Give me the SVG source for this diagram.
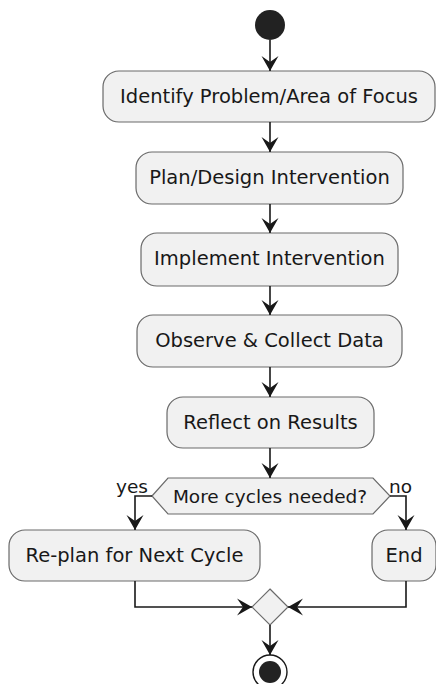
<svg xmlns="http://www.w3.org/2000/svg" width="436" height="684" viewBox="0 0 436 684">
<defs>
<marker id="ah" markerWidth="18" markerHeight="20" viewBox="-16 -10 18 20" refX="0" refY="0" orient="auto" markerUnits="userSpaceOnUse">
<path d="M0,0 L-15,-8.5 L-9,0 L-15,8.5 Z" fill="#181818"/>
</marker>
<style>
.box{fill:#F1F1F1;stroke:#6a6a6a;stroke-width:1.2}
.t{font-family:"DejaVu Sans",sans-serif;font-size:19.5px;fill:#181818;text-anchor:middle}
.s{font-family:"DejaVu Sans",sans-serif;font-size:18.5px;fill:#181818}
.ln{fill:none;stroke:#181818;stroke-width:1.6}
</style>
</defs>
<g id="start"><circle cx="270" cy="25" r="15" fill="#222"/></g>
<g id="n1"><rect class="box" x="103" y="71" width="332" height="51" rx="16"/><text class="t" x="269" y="103">Identify Problem/Area of Focus</text></g>
<g id="n2"><rect class="box" x="136" y="152" width="267" height="52" rx="16"/><text class="t" x="269.5" y="184">Plan/Design Intervention</text></g>
<g id="n3"><rect class="box" x="141" y="233" width="257" height="53" rx="16"/><text class="t" x="269.5" y="265">Implement Intervention</text></g>
<g id="n4"><rect class="box" x="137" y="315" width="265" height="52" rx="16"/><text class="t" x="269.5" y="347">Observe &amp; Collect Data</text></g>
<g id="n5"><rect class="box" x="167" y="397" width="207" height="51" rx="16"/><text class="t" x="270.5" y="429">Reflect on Results</text></g>
<g id="dec"><polygon class="box" points="152,496 168,478 373,478 390,496 373,514 168,514"/><text class="s" x="270" y="503" text-anchor="middle">More cycles needed?</text></g>
<g id="n6"><rect class="box" x="9" y="530" width="251" height="51" rx="16"/><text class="t" x="134.5" y="562">Re-plan for Next Cycle</text></g>
<g id="n7"><rect class="box" x="372" y="530" width="64" height="51" rx="16"/><text class="t" x="404" y="562">End</text></g>
<g id="merge"><polygon class="box" points="270,589 288,607 270,625 252,607"/></g>
<g id="stop"><circle cx="270" cy="672" r="17" fill="#fff" stroke="#181818" stroke-width="1.4"/><circle cx="270" cy="672" r="11" fill="#222"/></g>
<g id="connectors">
<line class="ln" x1="270" y1="40" x2="270" y2="71" marker-end="url(#ah)"/>
<line class="ln" x1="270" y1="122" x2="270" y2="152" marker-end="url(#ah)"/>
<line class="ln" x1="270" y1="204" x2="270" y2="233" marker-end="url(#ah)"/>
<line class="ln" x1="270" y1="286" x2="270" y2="315" marker-end="url(#ah)"/>
<line class="ln" x1="270" y1="367" x2="270" y2="397" marker-end="url(#ah)"/>
<line class="ln" x1="270" y1="448" x2="270" y2="478" marker-end="url(#ah)"/>
<polyline class="ln" points="152,496 135,496 135,530" marker-end="url(#ah)"/>
<polyline class="ln" points="390,496 406,496 406,530" marker-end="url(#ah)"/>
<polyline class="ln" points="135,581 135,607 252,607" marker-end="url(#ah)"/>
<polyline class="ln" points="406,581 406,607 288,607" marker-end="url(#ah)"/>
<line class="ln" x1="270" y1="625" x2="270" y2="655" marker-end="url(#ah)"/>
<text class="s" x="116" y="493">yes</text>
<text class="s" x="389" y="493">no</text>
</g>
</svg>
